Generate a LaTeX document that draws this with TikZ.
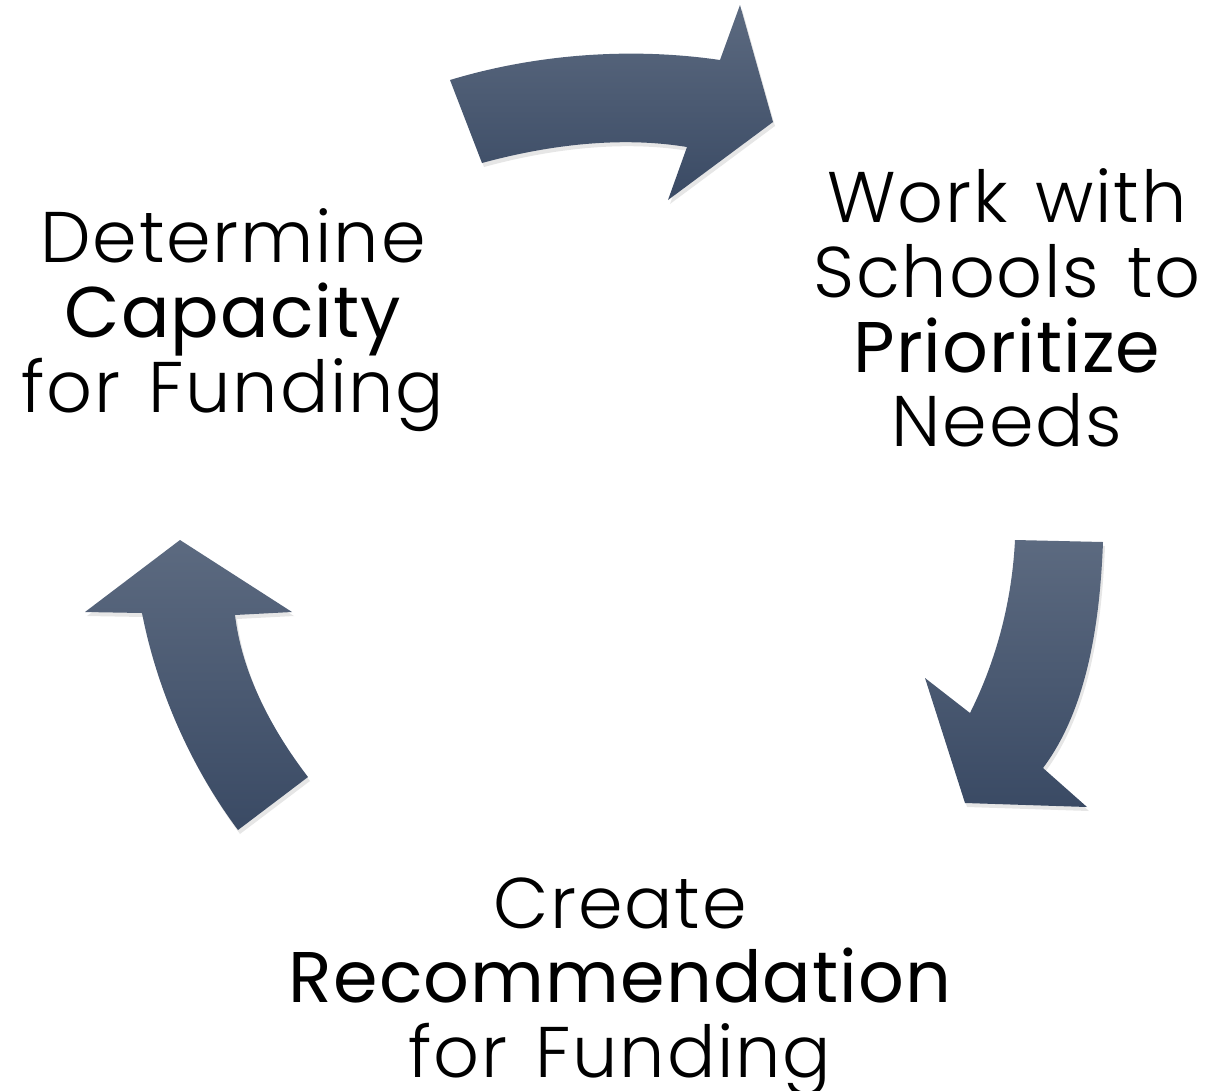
\documentclass[tikz,border=0pt]{standalone}
\usepackage{fontspec}
\newfontfamily\lightfont{Poppins Light}[LetterSpace=2.5,WordSpace=1.3]
\newfontfamily\mediumfont{Poppins}[LetterSpace=1.5,WordSpace=1.3]
\usetikzlibrary{shadows}
\definecolor{arrowtop}{RGB}{92,106,128}
\definecolor{arrowbot}{RGB}{58,74,100}

\begin{document}
\begin{tikzpicture}[x=1bp,y=-1bp,
  cyclearrow/.style={top color=arrowtop,bottom color=arrowbot,draw=none,
    drop shadow={opacity=0.2,shadow xshift=2bp,shadow yshift=-4bp}},
  steptext/.style={align=center,inner sep=0pt,
    font=\lightfont\fontsize{72}{75}\selectfont}]
\useasboundingbox (0,0) rectangle (1206,1091);

\path[cyclearrow] (450,80) .. controls (536,54) and (631,47) .. (720,60)
  -- (740,5) -- (773,122) -- (668,200) -- (687,147)
  .. controls (620,136) and (548,145) .. (482,163) -- cycle;
\path[cyclearrow] (1015,540) -- (1103,542)
  .. controls (1100,620) and (1088,708) .. (1043,768)
  -- (1087,807) -- (965,803) -- (925,678) -- (970,713)
  .. controls (997,659) and (1012,600) .. (1015,540) -- cycle;
\path[cyclearrow] (180,540) -- (292,612) -- (235,615)
  .. controls (242,674) and (272,730) .. (308,777)
  -- (238,830) .. controls (191,767) and (157,690) .. (142,613)
  -- (85,612) -- cycle;

\node[steptext] (capacity) at (233,320)
  {Determine\\{\mediumfont Capacity}\\for Funding};
\node[steptext] (prioritize) at (1007,308)
  {Work with\\Schools to\\{\mediumfont Prioritize}\\Needs};
\node[steptext] (recommend) at (620,987)
  {Create\\{\mediumfont Recommendation}\\for Funding};
\end{tikzpicture}
\end{document}
